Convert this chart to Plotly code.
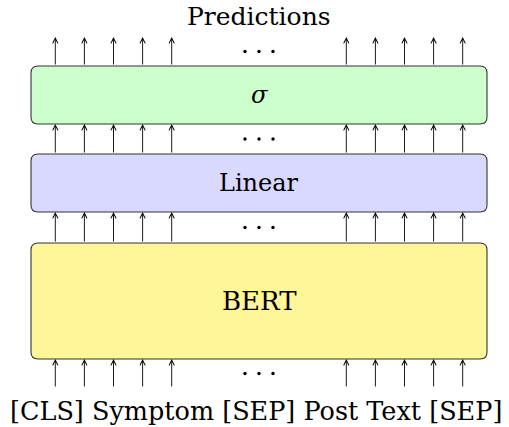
import plotly.graph_objects as go

# ---- data ----
layer_names = ["BERT", "Linear", "σ"]
layer_colors = ["#fff599", "#d9d9ff", "#ccffcc"]
layer_top = [243, 154, 66]
layer_bottom = [359, 212, 124]
tokens = ["[CLS]", "Symptom", "[SEP]", "Post", "Text", "[SEP]"]
output_label = "Predictions"
left_slots = [0, 1, 2, 3, 4]
right_slots = [10, 11, 12, 13, 14]
# arrow gaps: (start y, end y)
gaps = [(388, 359), (243, 212), (154, 124), (66, 37)]

# ---- geometry (pixels) ----
W, H = 509, 427
X0, DX = 55.3, 29.1
BOX_L, BOX_R = 31, 487
R = 7
FONT = "DejaVu Serif"


def sx(slot):
    return X0 + DX * slot


def rounded(x0, y0, x1, y1, r):
    return (f"M{x0+r},{y0} L{x1-r},{y0} Q{x1},{y0} {x1},{y0+r} "
            f"L{x1},{y1-r} Q{x1},{y1} {x1-r},{y1} L{x0+r},{y1} "
            f"Q{x0},{y1} {x0},{y1-r} L{x0},{y0+r} Q{x0},{y0} {x0+r},{y0} Z")


fig = go.Figure()
shapes = []
annotations = []

for name, col, t, b in zip(layer_names, layer_colors, layer_top, layer_bottom):
    shapes.append(dict(type="path", path=rounded(BOX_L, t, BOX_R, b, R),
                       xref="x", yref="y", fillcolor=col,
                       line=dict(color="#333333", width=1.1)))
    annotations.append(dict(x=(BOX_L + BOX_R) / 2, y=(t + b) / 2, text=name,
                            showarrow=False, xref="x", yref="y",
                            font=dict(family=FONT, size=26 if name == "BERT" else 24,
                                      color="black",
                                      style="italic" if name == "σ" else "normal")))

dot_x, dot_y = [], []
mid_slot = (left_slots[-1] + right_slots[0]) / 2
for y_start, y_end in gaps:
    for s in left_slots + right_slots:
        annotations.append(dict(x=sx(s), y=y_end, ax=sx(s), ay=y_start,
                                xref="x", yref="y", axref="x", ayref="y",
                                text="", showarrow=True, arrowhead=5,
                                arrowsize=1.15, arrowwidth=0.9, arrowcolor="black",
                                standoff=0, startstandoff=0))
    ym = (y_start + y_end) / 2
    for k in (-1, 0, 1):
        dot_x.append(sx(mid_slot) + 14 * k)
        dot_y.append(ym)

fig.add_trace(go.Scatter(x=dot_x, y=dot_y, mode="markers",
                         marker=dict(size=3.4, color="black"),
                         hoverinfo="skip", showlegend=False))

annotations.append(dict(x=259, y=16, text=output_label, showarrow=False,
                        xref="x", yref="y",
                        font=dict(family=FONT, size=25, color="black")))
annotations.append(dict(x=256, y=411, text=" ".join(tokens), showarrow=False,
                        xref="x", yref="y",
                        font=dict(family=FONT, size=25.5, color="black")))

fig.update_layout(
    width=W, height=H, margin=dict(l=0, r=0, t=0, b=0),
    paper_bgcolor="white", plot_bgcolor="white",
    shapes=shapes, annotations=annotations,
    xaxis=dict(range=[0, W], visible=False, fixedrange=True),
    yaxis=dict(range=[H, 0], visible=False, fixedrange=True),
)
fig.write_html("out.html", config={"displayModeBar": False},
               post_script="document.body.style.margin='0';document.body.style.overflow='hidden';")
